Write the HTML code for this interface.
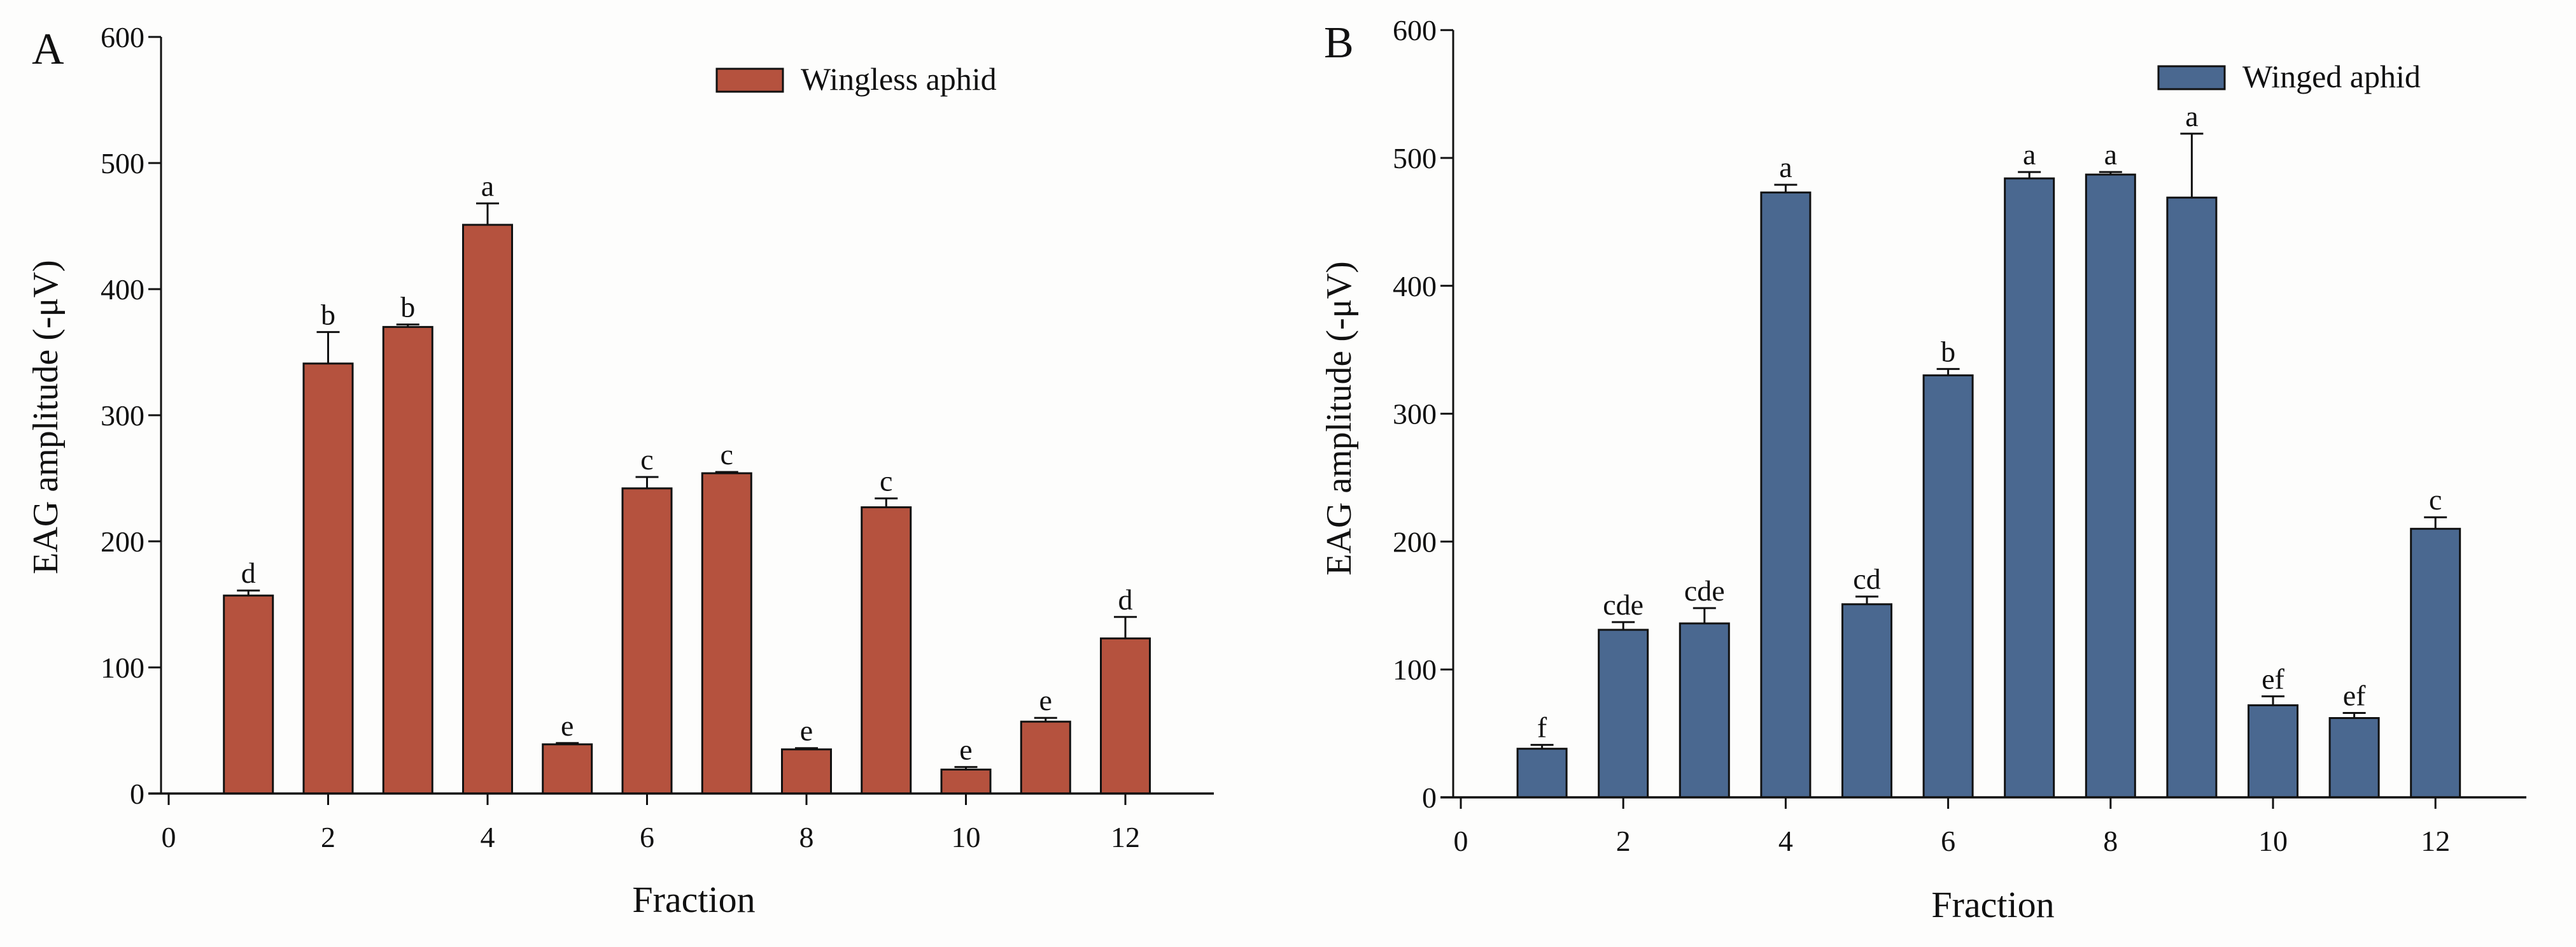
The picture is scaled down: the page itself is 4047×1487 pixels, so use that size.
<!DOCTYPE html>
<html><head><meta charset="utf-8"><style>
html,body{margin:0;padding:0;background:#fdfdfc;}
svg{display:block;font-family:"Liberation Serif",serif;}
</style></head><body>
<svg id="chart" width="4047" height="1487" viewBox="0 0 4047 1487" xmlns="http://www.w3.org/2000/svg">
<rect x="0" y="0" width="4047" height="1487" fill="#fdfdfc"/>
</svg>
<script>
const fractions = [1,2,3,4,5,6,7,8,9,10,11,12];
const winglessValues = [157,341,370,451,39,242,254,35,227,19,57,123];
const winglessErrTops = [161,366,372,468,40,251,255,36,234,21,60,140];
const winglessLetters = ["d","b","b","a","e","c","c","e","c","e","e","d"];
const wingedValues = [38,131,136,473,151,330,484,487,469,72,62,210];
const wingedErrTops = [41,137,148,479,157,335,489,489,519,79,66,219];
const wingedLetters = ["f","cde","cde","a","cd","b","a","a","a","ef","ef","c"];
const xTicks = [0,2,4,6,8,10,12];
const yTicks = [0,100,200,300,400,500,600];

const svg = document.getElementById('chart');
const NS = 'http://www.w3.org/2000/svg';
function mk(tag, attrs, parent){
  const e = document.createElementNS(NS, tag);
  for (const k in attrs) e.setAttribute(k, attrs[k]);
  (parent||svg).appendChild(e);
  return e;
}

function panel(cfg){
  const g = mk('g', {});
  
  
  const X = v => cfg.x0 + v*cfg.xu;
  const Y = v => cfg.y0 - v*cfg.yu/100;
  // bars
  cfg.values.forEach((v,i)=>{
    const cx = X(fractions[i]);
    const r = mk('rect', {x:cx-cfg.bw/2, y:Y(v), width:cfg.bw, height:Y(0)-Y(v), fill:cfg.color, stroke:'#111', 'stroke-width':3}, g);
    
    
    const e = mk('path', {d:`M${cx} ${Y(v)} V${Y(cfg.errs[i])} M${cx-18} ${Y(cfg.errs[i])} H${cx+18}`, stroke:'#111', 'stroke-width':3, fill:'none'}, g);
    
    
    const t = mk('text', {x:cx, y:Y(cfg.errs[i])-12, 'font-size':46, 'text-anchor':'middle', fill:'#111'}, g);
    t.textContent = cfg.letters[i];
    
    
  });
  // axes
  const ya = mk('line', {x1:cfg.ax, y1:Y(600), x2:cfg.ax, y2:Y(0)+1, stroke:'#111', 'stroke-width':3}, g);
  
  
  const xa = mk('line', {x1:cfg.ax-20, y1:Y(0), x2:cfg.axEnd, y2:Y(0), stroke:'#111', 'stroke-width':3.5}, g);
  
  
  yTicks.forEach(v=>{
    mk('line', {x1:cfg.ax-20, y1:Y(v), x2:cfg.ax, y2:Y(v), stroke:'#111', 'stroke-width':3}, g);
    const t = mk('text', {x:cfg.ax-26, y:Y(v)+16, 'font-size':46, 'text-anchor':'end', fill:'#111'}, g);
    t.textContent = v;
    
    
  });
  xTicks.forEach(v=>{
    mk('line', {x1:X(v), y1:Y(0), x2:X(v), y2:Y(0)+18, stroke:'#111', 'stroke-width':3}, g);
    const t = mk('text', {x:X(v), y:Y(0)+84, 'font-size':46, 'text-anchor':'middle', fill:'#111'}, g);
    t.textContent = v;
    
    
  });
  const yt = mk('text', {x:0, y:0, 'font-size':56, 'text-anchor':'middle', fill:'#111', transform:`translate(${cfg.ytx},${cfg.yty}) rotate(-90)`}, g);
  yt.textContent = 'EAG amplitude (-μV)';
  
  
  const xt = mk('text', {x:cfg.xtx, y:cfg.xty, 'font-size':58, 'text-anchor':'middle', fill:'#111'}, g);
  xt.textContent = 'Fraction';
  
  
  const pl = mk('text', {x:cfg.plx, y:cfg.ply, 'font-size':70, fill:'#111'}, g);
  pl.textContent = cfg.letter;
  
  
  const lg = mk('g', {}, g);
  
  
  mk('rect', {x:cfg.lx, y:cfg.ly, width:104, height:36, fill:cfg.color, stroke:'#111', 'stroke-width':3}, lg);
  const lt = mk('text', {x:cfg.lx+132, y:cfg.ly+33, 'font-size':50, fill:'#111'}, lg);
  lt.textContent = cfg.legend;
}

panel({name:'panel-a-wingless', letter:'A', values:winglessValues, errs:winglessErrTops, letters:winglessLetters,
  color:'#b5523e', x0:265, xu:125.25, y0:1246, yu:198, bw:77, ax:253, axEnd:1907,
  ytx:90, yty:655, xtx:1090, xty:1432, plx:50, ply:100, lx:1126, ly:108, legend:'Wingless aphid'});
panel({name:'panel-b-winged', letter:'B', values:wingedValues, errs:wingedErrTops, letters:wingedLetters,
  color:'#4a6890', x0:2295, xu:127.6, y0:1252, yu:200.8, bw:77, ax:2283, axEnd:3969,
  ytx:2122, yty:657, xtx:3131, xty:1440, plx:2080, ply:90, lx:3391, ly:104, legend:'Winged aphid'});
</script>
</body></html>
